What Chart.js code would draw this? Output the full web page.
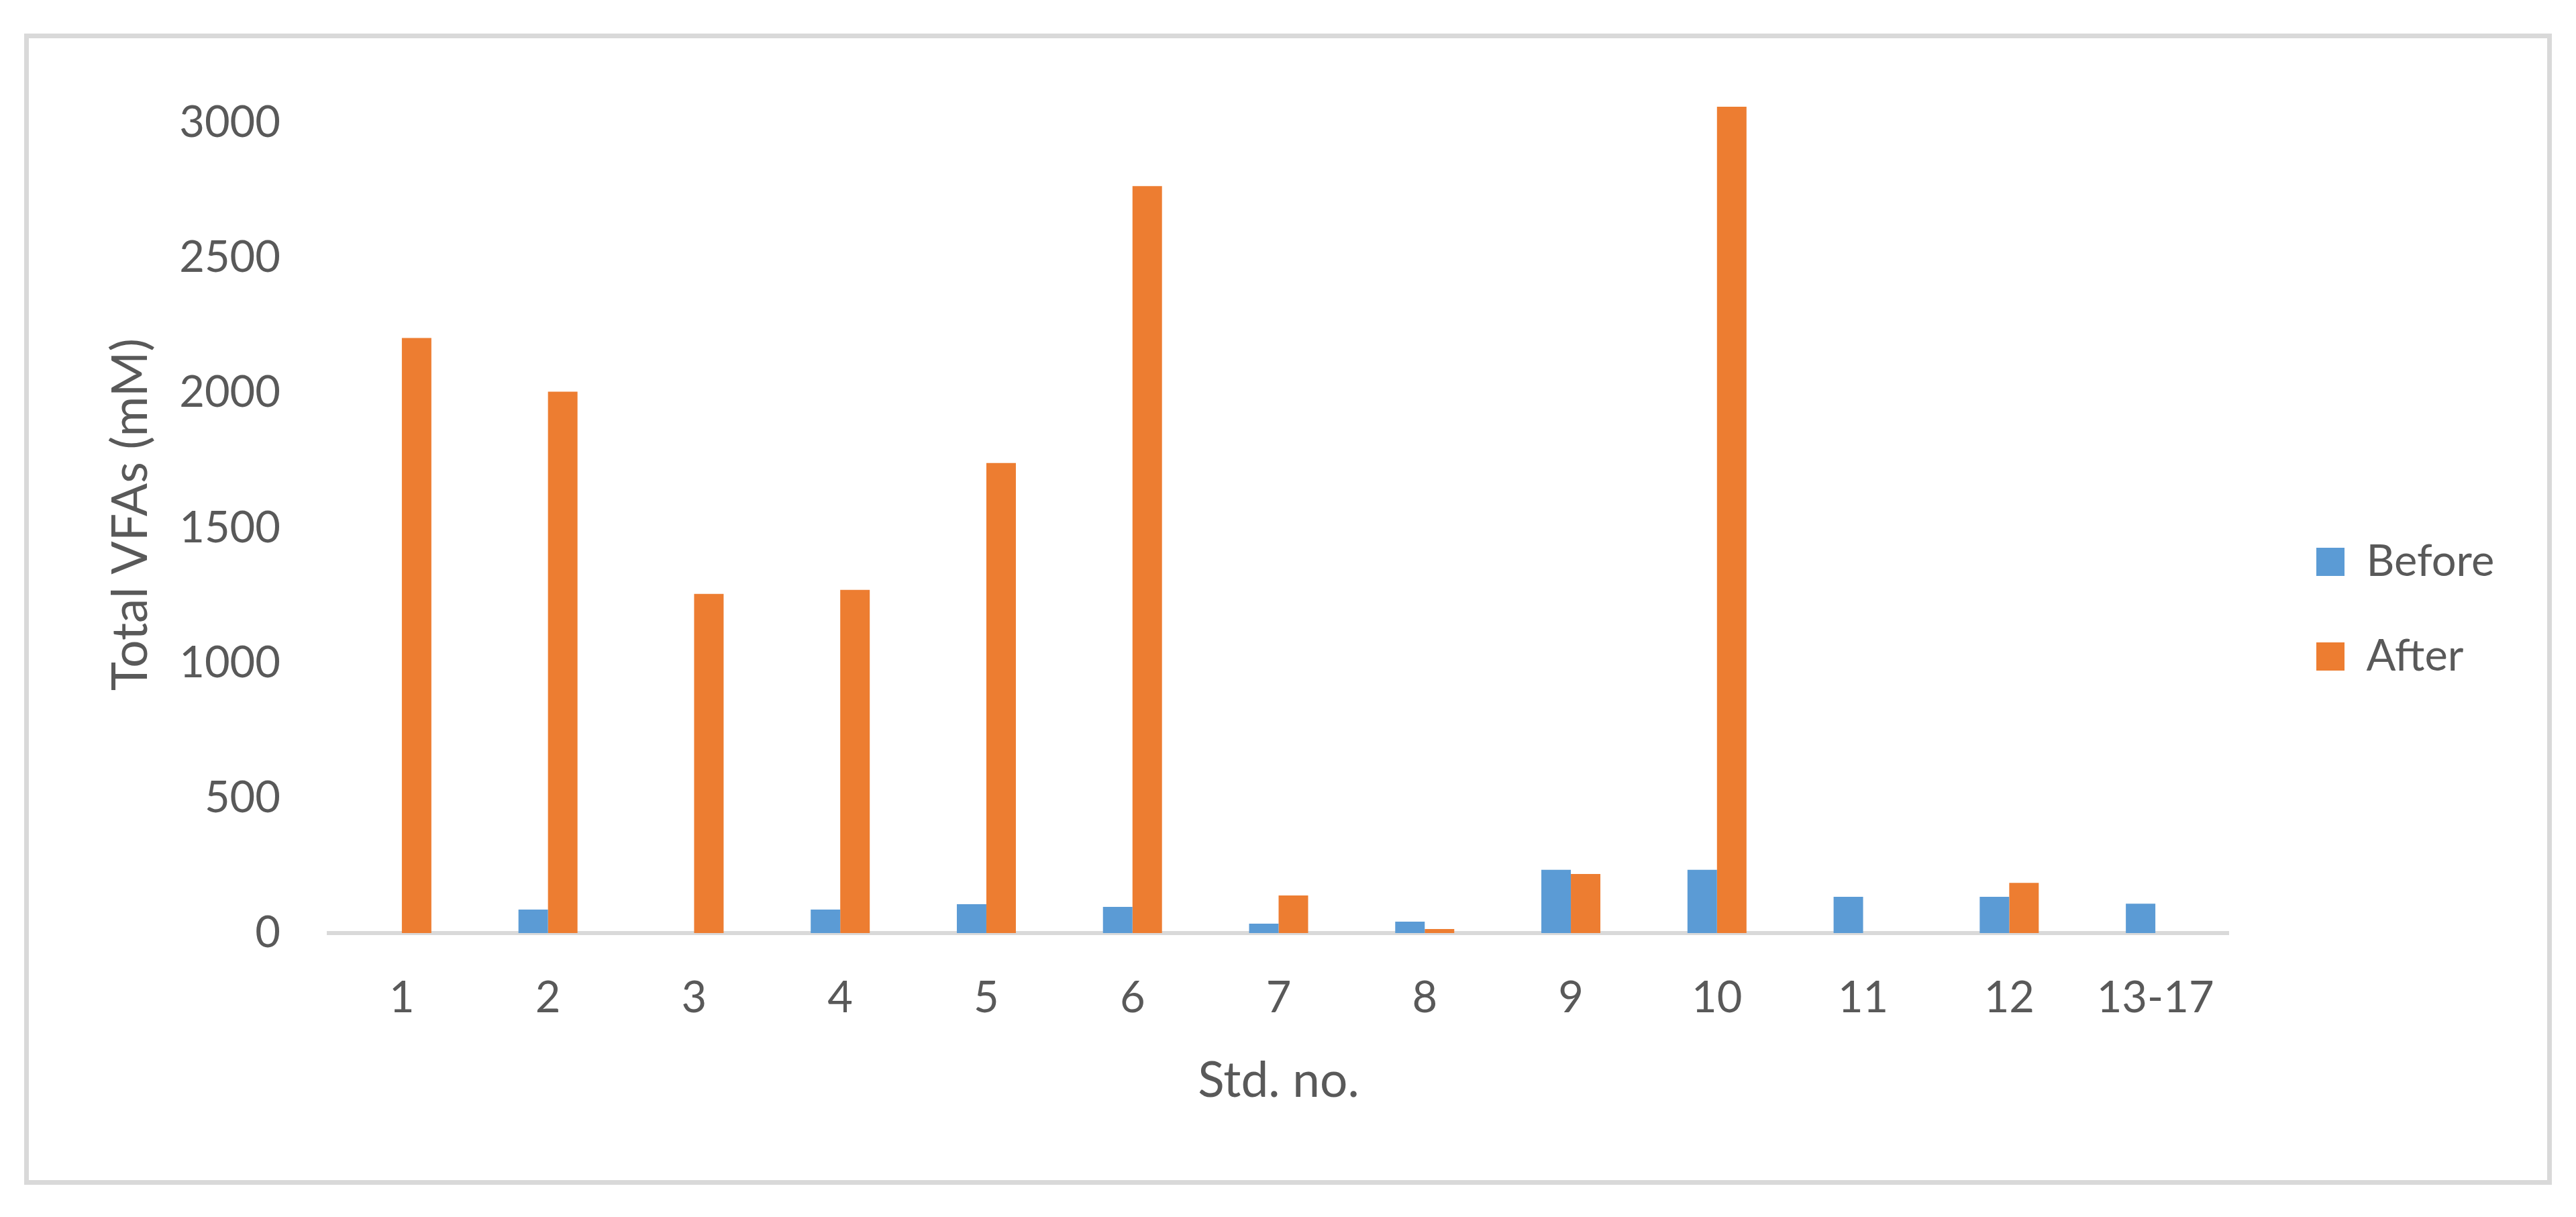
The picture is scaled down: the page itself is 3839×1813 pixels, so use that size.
<!DOCTYPE html>
<html>
<head>
<meta charset="utf-8">
<script src="https://cdn.jsdelivr.net/npm/chart.js@4.4.1/dist/chart.umd.min.js"></script>
<style>
  html, body { margin: 0; padding: 0; background: #fff; }
  #frame {
    position: absolute; left: 36px; top: 50px; width: 3767px; height: 1715px;
    border: 7px solid #d9d9d9; box-sizing: border-box;
  }
  #chart { position: absolute; left: 0; top: 0; }
</style>
</head>
<body>
<div id="frame"></div>
<canvas id="chart" width="3839" height="1813"></canvas>
<script>
const categories = ['1', '2', '3', '4', '5', '6', '7', '8', '9', '10', '11', '12', '13-17'];
const before = [0, 87, 0, 87, 107, 97, 35, 42, 234, 234, 134, 134, 109];
const after = [2204, 2005, 1256, 1271, 1741, 2766, 139, 15, 219, 3060, 0, 186, 0];
const yTicks = [0, 500, 1000, 1500, 2000, 2500, 3000];

const textColor = '#595959';
Chart.defaults.font.family = 'Lato';
Chart.defaults.color = textColor;

const ctx = document.getElementById('chart').getContext('2d');
const chart = new Chart(ctx, {
  type: 'bar',
  data: {
    labels: categories,
    datasets: [
      { label: 'Before', data: before, backgroundColor: '#5b9bd5' },
      { label: 'After', data: after, backgroundColor: '#ed7d31' }
    ]
  },
  options: {
    responsive: false,
    devicePixelRatio: 1,
    animation: false,
    categoryPercentage: 0.404,
    barPercentage: 1,
    layout: { padding: { left: 0, top: 143, bottom: 141, right: 113 } },
    plugins: {
      tooltip: { enabled: false },
      legend: {
        position: 'right',
        labels: {
          boxWidth: 42,
          boxHeight: 42,
          padding: 76,
          font: { size: 65 },
          color: textColor
        }
      }
    },
    scales: {
      x: {
        grid: { display: false, drawTicks: false },
        border: { color: '#d9d9d9', width: 6 },
        ticks: { padding: 58, font: { size: 65 }, color: textColor, maxRotation: 0, autoSkip: false },
        title: { display: true, text: 'Std. no.', font: { size: 73 }, color: textColor, padding: { top: 0, bottom: 18 } },
        afterFit: s => { s.height = 282; }
      },
      y: {
        min: 0,
        max: 3100,
        grid: { display: false, drawTicks: false },
        border: { display: false },
        afterBuildTicks: s => { s.ticks = yTicks.map(v => ({ value: v })); },
        ticks: { padding: 72, font: { size: 65 }, color: textColor, callback: v => String(v) },
        title: { display: true, text: 'Total VFAs (mM)', font: { size: 73 }, color: textColor, padding: { top: 152, bottom: 0 } },
        afterFit: s => { s.width = 490; }
      },
      // empty axis, only keeps the legend away from the plot
      gap: {
        type: 'linear',
        position: 'right',
        display: true,
        grid: { display: false, drawTicks: false },
        border: { display: false },
        ticks: { display: false },
        afterFit: s => { s.width = 55; }
      }
    }
  }
});

// plot should end at x = 3321
const dx = 3321 - chart.chartArea.right;
if (Math.abs(dx) > 1) {
  chart.options.layout.padding.right -= dx;
  chart.update();
}
</script>
</body>
</html>
